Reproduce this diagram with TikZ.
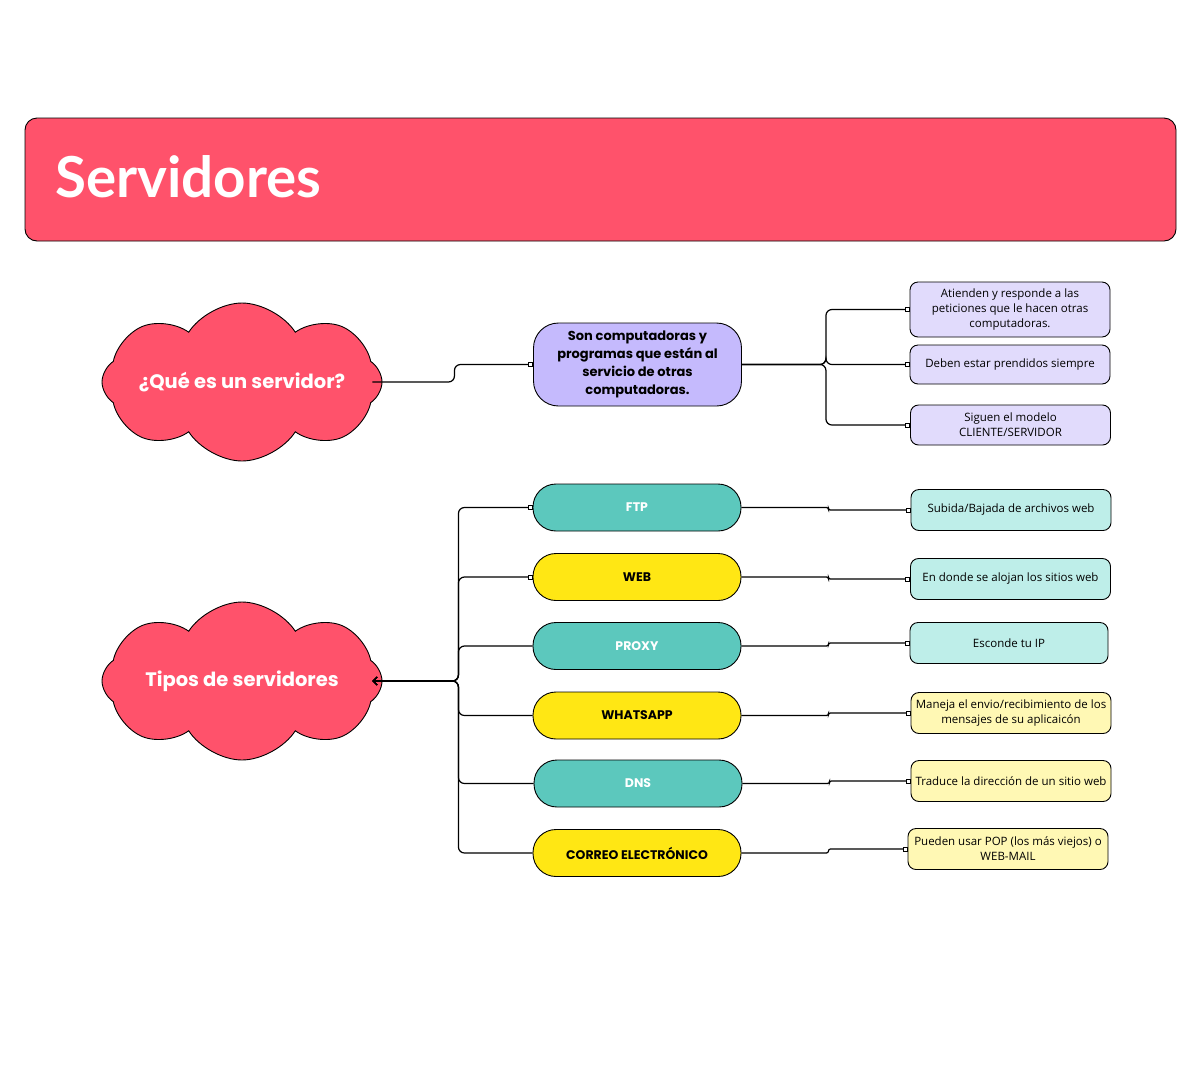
\documentclass[tikz,border=0pt]{standalone}
\usepackage{fontspec}
\setmainfont{Open Sans}
\newfontfamily\popfont{Poppins}
\newfontfamily\latofont{Lato}
\usetikzlibrary{arrows.meta,shapes.symbols}

\definecolor{pinkred}{HTML}{FF526B}
\definecolor{lavender}{HTML}{C5BAFD}
\definecolor{lavlight}{HTML}{E1DBFC}
\definecolor{tealc}{HTML}{5CC8BD}
\definecolor{teallight}{HTML}{BEEEE9}
\definecolor{yellowc}{HTML}{FFE714}
\definecolor{yellowlight}{HTML}{FFF8B4}

\tikzset{
  bubble/.style={cloud, cloud puffs=8, cloud puff arc=115, aspect=1.8, draw=black, fill=pinkred,
    line width=0.9pt, minimum width=280pt, minimum height=158pt, inner sep=0pt},
  bubbletext/.style={text=white, inner sep=0pt, font=\popfont\bfseries\fontsize{19.5}{22}\selectfont},
  pill/.style={draw=black, line width=0.9pt, rounded corners=23pt, minimum width=208pt,
    minimum height=47pt, font=\popfont\bfseries\fontsize{12.5}{14}\selectfont},
  note/.style={draw=black, line width=0.9pt, rounded corners=8pt, minimum width=200pt,
    minimum height=41pt, inner sep=2pt, align=center, font=\fontsize{11.5}{15}\selectfont},
  link/.style={line width=1.2pt, rounded corners=6pt},
  sqend/.style={-{Square[open,length=5pt,width=5pt,line width=1pt]}},
  hubtip/.style={{Straight Barb[length=4pt,width=8pt,line width=1pt]}-},
  hubtipsq/.style={{Straight Barb[length=4pt,width=8pt,line width=1pt]}-{Square[open,length=5pt,width=5pt,line width=1pt]}},
}

\begin{document}
\begin{tikzpicture}[x=1pt,y=-1pt]
    \useasboundingbox[fill=white] (0,0) rectangle (1200,1080);

    % Title bar
    \draw[fill=pinkred, rounded corners=12pt, line width=0.9pt] (25,118) rectangle (1176,241);
    \node[anchor=west, inner sep=0pt, text=white, font=\latofont\bfseries\fontsize{56.5}{58}\selectfont] (title) at (55,177) {Servidores};

    % What is a server
    \node[bubble, label={[bubbletext]center:¿Qué es un servidor?}] (que) at (242,382) {};
    \node[draw=black, fill=lavender, line width=0.9pt, rounded corners=25pt, minimum width=208pt, minimum height=83pt,
      align=center, font=\popfont\bfseries\fontsize{13}{18}\selectfont] (def) at (637.5,364.5)
      {Son computadoras y\\programas que están al\\servicio de otras\\computadoras.};
    \node[note, fill=lavlight, minimum height=55pt] (a1) at (1010,309.5) {Atienden y responde a las\\peticiones que le hacen otras\\computadoras.};
    \node[note, fill=lavlight, minimum height=39pt] (a2) at (1010,364.5) {Deben estar prendidos siempre};
    \node[note, fill=lavlight, minimum height=40pt] (a3) at (1010.5,425) {Siguen el modelo\\CLIENTE/SERVIDOR};

    \draw[link, sqend] ([xshift=-10pt]que.east) -- ++(82,0) |- (def.west);
    \foreach \b in {a1,a2,a3}
      \draw[link, sqend] (def.east) -- ++(84,0) |- (\b.west);

    % Types of servers
    \node[bubble, label={[bubbletext]center:Tipos de servidores}] (tipos) at (242,681) {};
    \node[pill, fill=tealc, text=white] (ftp) at (637,507.5) {FTP};
    \node[pill, fill=yellowc] (web) at (637,577) {WEB};
    \node[pill, fill=tealc, text=white] (proxy) at (637,646) {PROXY};
    \node[pill, fill=yellowc] (whats) at (637,715.5) {WHATSAPP};
    \node[pill, fill=tealc, text=white] (dns) at (638,783.5) {DNS};
    \node[pill, fill=yellowc] (correo) at (637,853) {CORREO ELECTRÓNICO};

    \foreach \s/\t in {ftp/hubtipsq, web/hubtipsq, proxy/hubtip, whats/hubtip, dns/hubtip, correo/hubtip}
      \draw[link, \t] ([xshift=-10pt]tipos.east) -- ++(86,0) |- (\s.west);

    % Descriptions
    \node[note, fill=teallight] (d1) at (1011,510) {Subida/Bajada de archivos web};
    \node[note, fill=teallight] (d2) at (1010.5,579) {En donde se alojan los sitios web};
    \node[note, fill=teallight, minimum width=198pt] (d3) at (1009,643) {Esconde tu IP};
    \node[note, fill=yellowlight] (d4) at (1011,713) {Maneja el envio/recibimiento de los\\mensajes de su aplicaicón};
    \node[note, fill=yellowlight] (d5) at (1011,781) {Traduce la dirección de un sitio web};
    \node[note, fill=yellowlight] (d6) at (1008,849) {Pueden usar POP (los más viejos) o\\WEB-MAIL};

    \foreach \s/\d in {ftp/d1, web/d2, proxy/d3, whats/d4, dns/d5, correo/d6}
      \draw[link, sqend, rounded corners=2pt] (\s.east) -- ++(87,0) |- (\d.west);
\end{tikzpicture}
\end{document}
